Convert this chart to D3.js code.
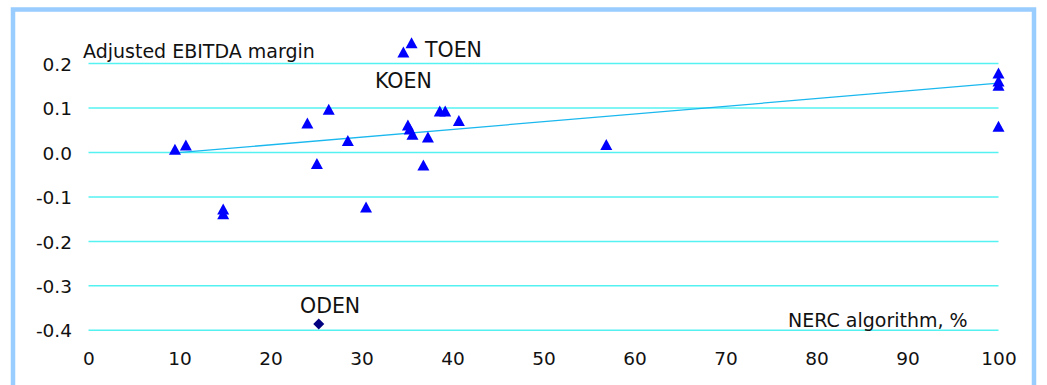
<!DOCTYPE html>
<html><head><meta charset="utf-8">
<script src="https://cdn.jsdelivr.net/npm/d3@7"></script>
<style>html,body{margin:0;padding:0;background:#fff;}svg{display:block;font-family:"DejaVu Sans",Verdana,sans-serif;}</style>
</head><body>
<svg id="c" width="1047" height="385"></svg>
<script>
const xTicks = [0,10,20,30,40,50,60,70,80,90,100];
const yTicks = [0.2,0.1,0.0,-0.1,-0.2,-0.3,-0.4];
const yTickLabels = ["0.2","0.1","0.0","-0.1","-0.2","-0.3","-0.4"];
// triangle series: NERC algorithm % vs adjusted EBITDA margin
const triX = [9.5,10.7,14.8,14.8,24.05,25.1,26.4,28.5,30.5,34.6,35.5,35.1,35.3,35.6,37.3,36.8,38.6,39.2,40.7,56.9,100,100,100,100];
const triY = [0.006,0.016,-0.128,-0.139,0.065,-0.026,0.096,0.026,-0.124,0.225,0.246,0.061,0.052,0.040,0.034,-0.029,0.092,0.092,0.071,0.017,0.178,0.160,0.150,0.058];
// ODEN diamond
const odenX = [25.3];
const odenY = [-0.386];
// trend line endpoints
const trendX = [9.5,100];
const trendY = [-0.001,0.156];
const labels = [{t:"TOEN",x:425,y:57,s:20.5},{t:"KOEN",x:375,y:88,s:20.5},{t:"ODEN",x:300,y:313,s:20.5}];

const svg = d3.select("#c");
const x = d3.scaleLinear().domain([0,100]).range([88.5,998.5]);
const y = d3.scaleLinear().domain([-0.4,0.2]).range([330.3,63.6]);

// frame
svg.append("path").attr("d","M13,400 V9.5 H1034 V400").attr("fill","none").attr("stroke","#99ccff").attr("stroke-width",4.5);

// gridlines
svg.append("g").selectAll("line").data(yTicks).join("line")
  .attr("x1",x(0)).attr("x2",x(100)).attr("y1",d=>y(d)).attr("y2",d=>y(d))
  .attr("stroke","#55f2f2").attr("stroke-width",1.5);

// y axis labels
const yAxis = d3.axisLeft(y).tickValues(yTicks).tickFormat((d,i)=>yTickLabels[i]).tickSize(0).tickPadding(0);
const ga = svg.append("g").attr("transform","translate(72,0)").call(yAxis);
ga.select(".domain").remove();
ga.selectAll("text").attr("font-size",18.5).attr("fill","#111").attr("font-family","DejaVu Sans").attr("dy","0.36em");

// x axis labels
const xAxis = d3.axisBottom(x).tickValues(xTicks).tickFormat(d3.format("d")).tickSize(0).tickPadding(0);
const gx = svg.append("g").attr("transform","translate(0,352)").call(xAxis);
gx.select(".domain").remove();
gx.selectAll("text").attr("font-size",18.5).attr("fill","#111").attr("font-family","DejaVu Sans").attr("dy","0.72em");

// trend line
svg.append("path").datum(trendX.map((d,i)=>[d,trendY[i]]))
  .attr("d",d3.line().x(d=>x(d[0])).y(d=>y(d[1])))
  .attr("stroke","#1ab8ee").attr("stroke-width",1.3).attr("fill","none");

// triangles
const tri = "M0,-6L6,5L-6,5Z";
svg.append("g").selectAll("path").data(triX.map((d,i)=>[d,triY[i]])).join("path")
  .attr("d",tri).attr("transform",d=>`translate(${x(d[0])},${y(d[1])})`).attr("fill","#0000ff");

// diamond
svg.append("g").selectAll("path").data(odenX.map((d,i)=>[d,odenY[i]])).join("path")
  .attr("d","M0,-5.5L5.5,0L0,5.5L-5.5,0Z").attr("transform",d=>`translate(${x(d[0])},${y(d[1])})`).attr("fill","#000080");

// texts
svg.append("text").attr("x",83).attr("y",58).attr("font-size",19).attr("fill","#111").text("Adjusted EBITDA margin");
svg.append("text").attr("x",788).attr("y",327).attr("font-size",19).attr("fill","#111").text("NERC algorithm, %");
svg.append("g").selectAll("text").data(labels).join("text")
  .attr("x",d=>d.x).attr("y",d=>d.y).attr("font-size",d=>d.s).attr("fill","#111").text(d=>d.t);
</script>
</body></html>
